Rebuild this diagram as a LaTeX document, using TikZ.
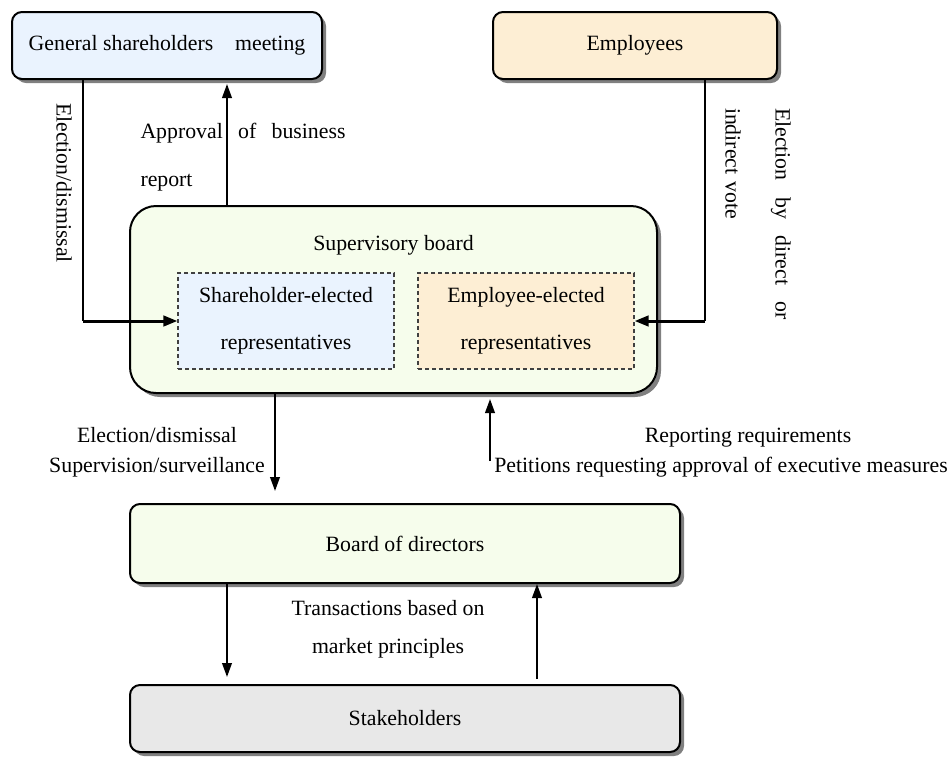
\documentclass[tikz,border=0pt]{standalone}
\usepackage{fontspec}
\setmainfont{Liberation Serif}
\usetikzlibrary{calc,shadows,arrows.meta}
\definecolor{holderblue}{RGB}{234,243,254}
\definecolor{staffbeige}{RGB}{253,238,212}
\definecolor{boardgreen}{RGB}{246,253,236}
\definecolor{stakegray}{RGB}{232,232,232}

\begin{document}
\begin{tikzpicture}[x=0.5pt,y=-0.5pt,font={\fontsize{10.9pt}{13pt}\selectfont},
    organ/.style={draw,line width=1pt,rounded corners=5pt,drop shadow={shadow xshift=2pt,shadow yshift=-2pt,fill=black!50,opacity=1}},
    delegates/.style={draw=black!75,dash pattern=on 2pt off 1.5pt,line width=0.6pt,minimum width=108pt,minimum height=48pt,align=center},
    link/.style={line width=0.8pt},
    flow/.style={line width=1pt,-{Triangle[length=7pt,width=4.8pt]}},
    feed/.style={line width=1.5pt,-{Triangle[length=7pt,width=5.2pt]}}]
                \useasboundingbox (0,0) rectangle (952,756);

                \node[organ,fill=holderblue,minimum width=155pt,minimum height=33.5pt] (meeting) at (167,45.5) {General shareholders\quad meeting};
                \node[organ,fill=staffbeige,minimum width=142pt,minimum height=33.5pt] (employees) at (635,45.5) {Employees};

                \node[organ,fill=boardgreen,rounded corners=13pt,minimum width=263.5pt,minimum height=93.5pt] (supervisory) at (393.5,299.5) {};
                \node (suptitle) at (393.5,245) {Supervisory board};
                \node[delegates,fill=holderblue] (holderreps) at (286,321) {Shareholder-elected\\[10.5pt]representatives};
                \node[delegates,fill=staffbeige] (staffreps) at (526,321) {Employee-elected\\[10.5pt]representatives};

                \node[organ,fill=boardgreen,minimum width=275pt,minimum height=39.5pt] (directors) at (405,543.5) {Board of directors};
                \node[organ,fill=stakegray,minimum width=275pt,minimum height=33.5pt] (stakeholders) at (405,718.5) {Stakeholders};

                % labels
                \node[rotate=-90] (electlabel) at (64,183) {Election/dismissal};
                \node[rotate=-90,text width=106pt,align=left] (votelabel) at (758,214) {Election\hfill by\hfill direct\hfill or\\[12pt]indirect vote};
                \node[text width=102.5pt,align=left] (approvallabel) at (243,157) {Approval\hfill of\hfill business\\[11pt]report};
                \node[align=center] (controllabel) at (157,452) {Election/dismissal\\[2pt]Supervision/surveillance};
                \node (reportlabel) at (748,438) {Reporting requirements};
                \node (petitionlabel) at (721,467) {Petitions requesting approval of executive measures};
                \node[align=center] (marketlabel) at (388,629) {Transactions based on\\[6pt]market principles};

                % connectors
                \coordinate (meetingturn) at (83,321);
                \coordinate (employeeturn) at (705,321);
                \draw[link] (meeting.south -| meetingturn) -- (meetingturn);
                \draw[feed] (meetingturn) -- (holderreps.west);
                \draw[link] (employees.south -| employeeturn) -- (employeeturn);
                \draw[feed] (employeeturn) -- (staffreps.east);

                \draw[flow,shorten >=2pt] ([xshift=-83.25pt]supervisory.north) -- ([xshift=30pt]meeting.south);
                \draw[flow,shorten >=6pt] ([xshift=-59.25pt]supervisory.south) -- ([xshift=-65pt]directors.north);
                \draw[flow,shorten <=21pt,shorten >=2.5pt] ([xshift=42.5pt]directors.north) -- ([xshift=48.25pt]supervisory.south);
                \draw[flow,shorten >=3.5pt] ([xshift=-89pt]directors.south) -- ([xshift=-89pt]stakeholders.north);
                \draw[flow,shorten <=2.5pt] ([xshift=66pt]stakeholders.north) -- ([xshift=66pt]directors.south);
            \end{tikzpicture}
\end{document}
